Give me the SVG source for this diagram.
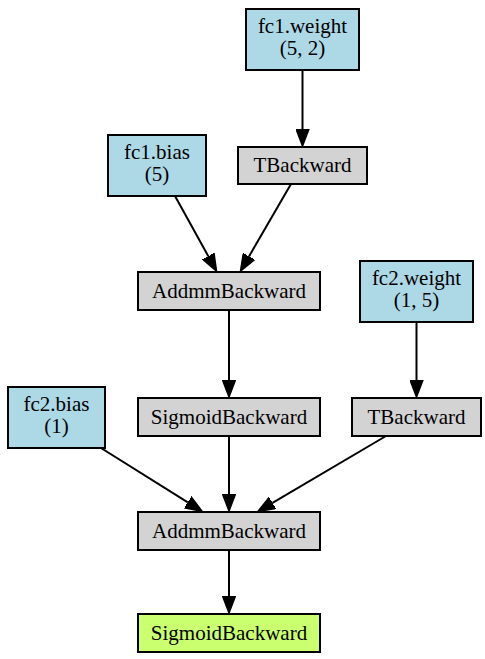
<svg xmlns="http://www.w3.org/2000/svg" width="485" height="659" viewBox="0 0 485 659">
<style>
.n rect{stroke:#000;stroke-width:2}
.p rect{fill:#add8e6}
.o rect{fill:#d3d3d3}
.f rect{fill:#caff70}
text{font-family:'Liberation Serif','DejaVu Serif',serif;font-size:21px;fill:#000;text-anchor:middle}
#edges path{fill:none;stroke:#000;stroke-width:2;marker-end:url(#ah)}
</style>
<defs>
<marker id="ah" viewBox="0 -7 18 14" markerWidth="18" markerHeight="14" refX="0" refY="0" orient="auto" markerUnits="userSpaceOnUse">
<path d="M0,-6.5 L17,0 L0,6.5 z" fill="#000" stroke="#000" stroke-width="1.5"/>
</marker>
</defs>
<rect width="485" height="659" fill="#fff"/>
<g id="edges">
<path d="M302.5,70 L302.5,129"/>
<path d="M175,196 L208.3,256.2"/>
<path d="M291,184 L249,256.4"/>
<path d="M229,310 L229,380"/>
<path d="M416.5,322 L416.5,380"/>
<path d="M101,448 L187.8,502.4"/>
<path d="M229,436 L229,494"/>
<path d="M386,436 L272.5,502.9"/>
<path d="M229,550 L229,596"/>
</g>
<g id="fc1_weight" class="n p"><rect x="246" y="9" width="113" height="61"/><text x="302.5" y="33">fc1.weight</text><text x="302.5" y="55">(5, 2)</text></g>
<g id="tbackward1" class="n o"><rect x="238" y="147" width="129" height="37"/><text x="302.5" y="172">TBackward</text></g>
<g id="fc1_bias" class="n p"><rect x="108" y="135" width="98" height="61"/><text x="157" y="159">fc1.bias</text><text x="157" y="181">(5)</text></g>
<g id="addmm1" class="n o"><rect x="138" y="272" width="182" height="38"/><text x="229" y="298">AddmmBackward</text></g>
<g id="fc2_weight" class="n p"><rect x="360" y="261" width="113" height="61"/><text x="416.5" y="285">fc2.weight</text><text x="416.5" y="307">(1, 5)</text></g>
<g id="fc2_bias" class="n p"><rect x="8" y="387" width="97" height="61"/><text x="56.5" y="411">fc2.bias</text><text x="56.5" y="433">(1)</text></g>
<g id="sigmoid1" class="n o"><rect x="138" y="398" width="182" height="38"/><text x="229" y="424">SigmoidBackward</text></g>
<g id="tbackward2" class="n o"><rect x="352" y="398" width="129" height="38"/><text x="416.5" y="424">TBackward</text></g>
<g id="addmm2" class="n o"><rect x="138" y="512" width="182" height="38"/><text x="229" y="538">AddmmBackward</text></g>
<g id="sigmoid2" class="n f"><rect x="138" y="614" width="182" height="38"/><text x="229" y="640">SigmoidBackward</text></g>
</svg>
